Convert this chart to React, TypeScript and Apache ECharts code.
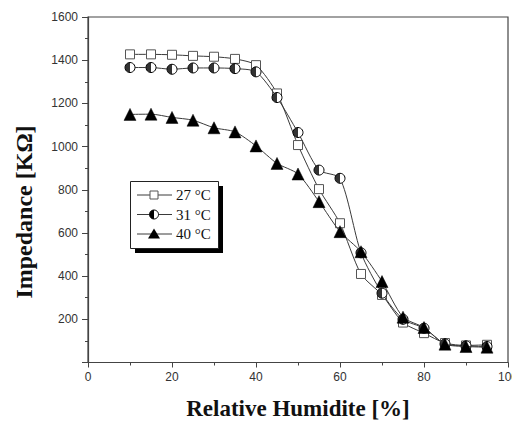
import React, { useEffect, useRef } from "react";
import * as echarts from "echarts";

// Relative humidity (%) at which impedance was measured
const humidity = [10, 15, 20, 25, 30, 35, 40, 45, 50, 55, 60, 65, 70, 75, 80, 85, 90, 95];

// Impedance (kΩ) at each temperature
const imp27 = [1427, 1427, 1425, 1420, 1416, 1406, 1377, 1246, 1007, 803, 645, 410, 313, 185, 136, 90, 79, 82];
const imp31 = [1366, 1366, 1358, 1364, 1364, 1361, 1346, 1227, 1065, 891, 853, 508, 321, 200, 159, 86, 77, 74];
const imp40 = [1149, 1150, 1135, 1122, 1087, 1068, 1003, 922, 873, 745, 606, 513, 375, 210, 162, 85, 74, 71];

const legendLabels = ["27 °C", "31 °C", "40 °C"];

const xTicks = { min: 0, max: 100, interval: 20 };
const yTicks = { min: 0, max: 1600, interval: 200 };

const pairs = (ys: number[]) => humidity.map((x, i) => [x, ys[i]]);

const LINE = "#3a3a3a";
const AXIS = "#444";

// left half of a circle, filled black, laid over the open circle markers
const HALF_DISC = "path://M10,0 A10,10 0 0 0 10,20 Z";

// the chart canvas is wider than the visible frame, so the last x label is cut at the edge
const VIEW_W = 512;
const VIEW_H = 421;
const CHART_W = 540;

export default function App() {
  const ref = useRef<HTMLDivElement>(null);

  useEffect(() => {
    if (!ref.current) return;
    const chart = echarts.init(ref.current, null, { renderer: "svg" });

    const lx0 = 137;
    const lx1 = 172;
    const lsx = 154;
    const rows = [195, 214.5, 234];

    const legendGraphics: any[] = [
      { type: "rect", shape: { x: 135, y: 186, width: 88, height: 67 }, style: { fill: "#000" }, z: 100 },
      { type: "rect", shape: { x: 130.5, y: 181.5, width: 88, height: 67 }, style: { fill: "#fff", stroke: "#222", lineWidth: 1 }, z: 101 },
    ];
    rows.forEach((y, i) => {
      legendGraphics.push({ type: "line", shape: { x1: lx0, y1: y, x2: lx1, y2: y }, style: { stroke: LINE, lineWidth: 1 }, z: 102 });
      if (i === 0) {
        legendGraphics.push({ type: "rect", shape: { x: lsx - 4, y: y - 4, width: 8, height: 8 }, style: { fill: "#fff", stroke: "#555", lineWidth: 1 }, z: 103 });
      } else if (i === 1) {
        legendGraphics.push({ type: "circle", shape: { cx: lsx, cy: y, r: 4.5 }, style: { fill: "#fff", stroke: "#000", lineWidth: 1 }, z: 103 });
        legendGraphics.push({ type: "sector", shape: { cx: lsx, cy: y, r0: 0, r: 4.5, startAngle: Math.PI / 2, endAngle: (3 * Math.PI) / 2, clockwise: true }, style: { fill: "#000" }, z: 104 });
      } else {
        legendGraphics.push({ type: "polygon", shape: { points: [[lsx, y - 5.5], [lsx + 6, y + 4.5], [lsx - 6, y + 4.5]] }, style: { fill: "#000" }, z: 103 });
      }
      legendGraphics.push({
        type: "text",
        x: 176,
        y,
        style: { text: legendLabels[i], font: "15px 'Liberation Serif', 'Times New Roman', serif", fill: "#111", verticalAlign: "middle", align: "left" },
        z: 103,
      });
    });

    chart.setOption({
      animation: false,
      backgroundColor: "#fff",
      grid: { left: 88, top: 17, right: CHART_W - 508, bottom: 58.5, show: true, borderColor: AXIS, borderWidth: 1.2 },
      xAxis: {
        type: "value",
        min: xTicks.min,
        max: xTicks.max,
        interval: xTicks.interval,
        axisLine: { show: true, onZero: false, lineStyle: { color: AXIS, width: 1.2 } },
        axisTick: { show: true, inside: false, length: 5, lineStyle: { color: AXIS } },
        minorTick: { show: true, splitNumber: 2, length: 3, lineStyle: { color: AXIS } },
        splitLine: { show: false },
        axisLabel: { color: "#333", fontSize: 12, fontFamily: "'Liberation Sans', Arial, sans-serif", margin: 8 },
      },
      yAxis: {
        type: "value",
        min: yTicks.min,
        max: yTicks.max,
        interval: yTicks.interval,
        axisLine: { show: true, onZero: false, lineStyle: { color: AXIS, width: 1.2 } },
        axisTick: { show: true, inside: false, length: 6, lineStyle: { color: AXIS } },
        minorTick: { show: true, splitNumber: 2, length: 3, lineStyle: { color: AXIS } },
        splitLine: { show: false },
        axisLabel: {
          color: "#333",
          fontSize: 12,
          fontFamily: "'Liberation Sans', Arial, sans-serif",
          margin: 10,
          formatter: (v: number) => (v === 0 ? "" : String(v)),
        },
      },
      series: [
        {
          name: legendLabels[0],
          type: "line",
          data: pairs(imp27),
          smooth: 0.25,
          symbol: "rect",
          symbolSize: 9,
          lineStyle: { color: LINE, width: 1 },
          itemStyle: { color: "#fff", borderColor: "#555", borderWidth: 1 },
          z: 2,
        },
        {
          name: legendLabels[1],
          type: "line",
          data: pairs(imp31),
          smooth: 0.25,
          symbol: "circle",
          symbolSize: 10,
          lineStyle: { color: LINE, width: 1 },
          itemStyle: { color: "#fff", borderColor: "#000", borderWidth: 1 },
          z: 3,
        },
        {
          name: legendLabels[1] + " fill",
          type: "scatter",
          data: pairs(imp31),
          symbol: HALF_DISC,
          symbolSize: [5, 10],
          symbolOffset: [-2.5, 0],
          itemStyle: { color: "#000" },
          silent: true,
          z: 4,
        },
        {
          name: legendLabels[2],
          type: "line",
          data: pairs(imp40),
          smooth: 0.25,
          symbol: "triangle",
          symbolSize: 12,
          lineStyle: { color: LINE, width: 1 },
          itemStyle: { color: "#000", borderColor: "#000", borderWidth: 0.5 },
          z: 5,
        },
      ],
      graphic: [
        {
          type: "text",
          x: 298,
          y: 408,
          style: {
            text: "Relative Humidite [%]",
            font: "bold 23px 'Liberation Serif', 'Times New Roman', serif",
            fill: "#111",
            align: "center",
            verticalAlign: "middle",
          },
        },
        {
          type: "text",
          x: 24,
          y: 212,
          rotation: Math.PI / 2,
          style: {
            text: "Impedance [KΩ]",
            font: "bold 24px 'Liberation Serif', 'Times New Roman', serif",
            fill: "#111",
            align: "center",
            verticalAlign: "middle",
          },
        },
        ...legendGraphics,
      ],
    });

    return () => chart.dispose();
  }, []);

  return (
    <div style={{ position: "absolute", left: 0, top: 0, width: VIEW_W, height: VIEW_H, overflow: "hidden", background: "#fff" }}>
      <div ref={ref} style={{ width: CHART_W, height: VIEW_H }} />
    </div>
  );
}
